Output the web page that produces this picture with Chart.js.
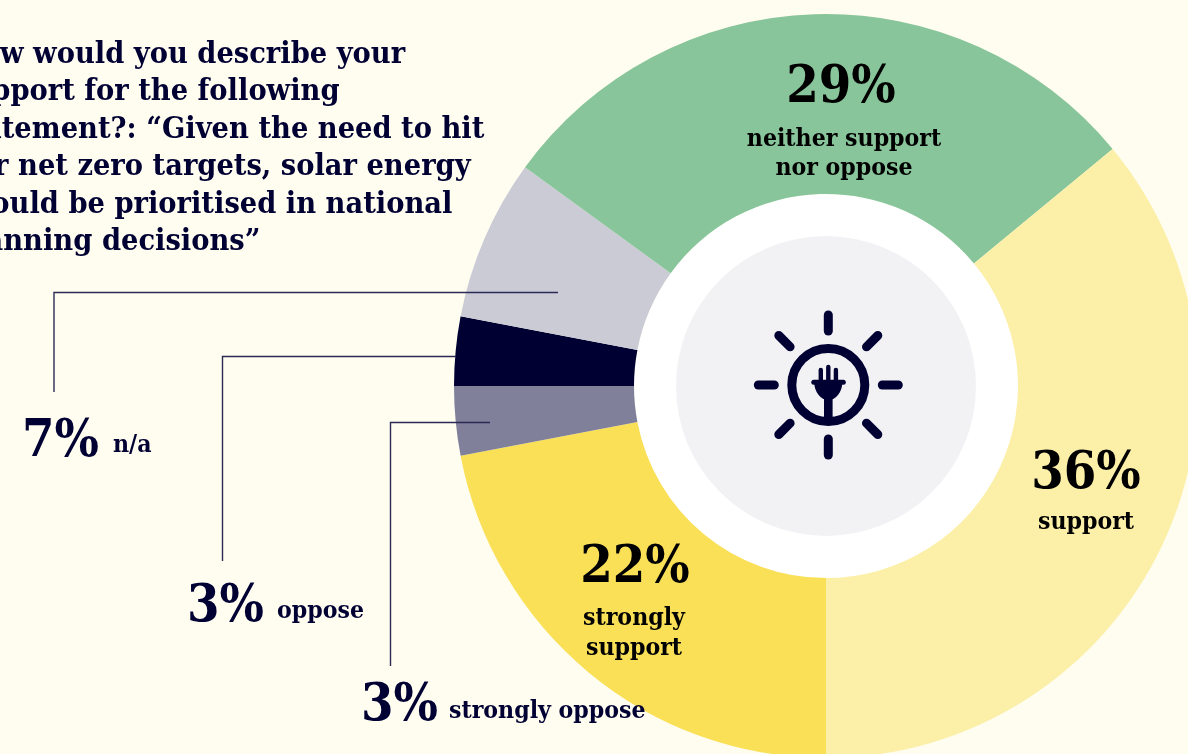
<!DOCTYPE html>
<html>
<head>
<meta charset="utf-8">
<style>
    html, body { margin: 0; padding: 0; width: 1188px; height: 754px; overflow: hidden; background: #fffdf0; }
    canvas { display: block; }
</style>
<script src="https://cdn.jsdelivr.net/npm/chart.js@4"></script>
</head>
<body>
<canvas id="solar" width="1198" height="758"></canvas>
<script>
// clockwise from the bottom of the ring
var categories = ['strongly support', 'strongly oppose', 'oppose', 'n/a', 'neither support nor oppose', 'support'];
var shares = [22, 3, 3, 7, 29, 36];
var sliceColors = ['#fae057', '#80809a', '#000033', '#cbcbd6', '#88c59a', '#fcefa8'];

var question = [
    'How would you describe your',
    'support for the following',
    'statement?: \u201cGiven the need to hit',
    'our net zero targets, solar energy',
    'should be prioritised in national',
    'planning decisions\u201d'
];

var ink = '#000033';
var serif = '"DejaVu Serif Condensed", "DejaVu Serif", serif';

// labels sitting on the ring: category index, centre x, percent baseline, caption lines
var insideLabels = [
    { i: 4, x: 841, y: 102, lines: [['neither support', 844, 146], ['nor oppose', 844, 175]] },
    { i: 5, x: 1086, y: 488, lines: [['support', 1086, 529]] },
    { i: 0, x: 635, y: 582, lines: [['strongly', 634, 625], ['support', 634, 655]] }
];

// labels outside the ring, each with an elbow leader
var outsideLabels = [
    { i: 3, x: 22, y: 456, capX: 113, capY: 452, path: [[54, 392], [54, 292.5], [558, 292.5]] },
    { i: 2, x: 187, y: 621, capX: 277, capY: 618, path: [[222.5, 561], [222.5, 356.5], [456, 356.5]] },
    { i: 1, x: 361, y: 720, capX: 449, capY: 718, path: [[390.5, 666], [390.5, 422.5], [490, 422.5]] }
];

function drawHub(ctx, cx, cy) {
    ctx.save();
    ctx.fillStyle = '#ffffff';
    ctx.beginPath();
    ctx.arc(cx, cy, 192, 0, Math.PI * 2);
    ctx.fill();
    ctx.fillStyle = '#f2f2f5';
    ctx.beginPath();
    ctx.arc(cx, cy, 150, 0, Math.PI * 2);
    ctx.fill();
    ctx.restore();
}

function drawIcon(ctx, cx, cy) {
    ctx.save();
    ctx.translate(cx + 2.3, cy - 1);
    ctx.strokeStyle = ink;
    ctx.fillStyle = ink;

    // sun ring and rays
    ctx.lineWidth = 9;
    ctx.beginPath();
    ctx.arc(0, 0, 36.5, 0, Math.PI * 2);
    ctx.stroke();
    ctx.lineCap = 'round';
    for (var k = 0; k < 8; k++) {
        var a = k * Math.PI / 4;
        ctx.beginPath();
        ctx.moveTo(Math.cos(a) * 54, Math.sin(a) * 54);
        ctx.lineTo(Math.cos(a) * 70, Math.sin(a) * 70);
        ctx.stroke();
    }

    // plug: pins, bar, body, cable
    ctx.lineWidth = 4.4;
    [[-7.5, -15], [0, -18], [7.6, -15]].forEach(function (p) {
        ctx.beginPath();
        ctx.moveTo(p[0], p[1]);
        ctx.lineTo(p[0], -3);
        ctx.stroke();
    });
    ctx.lineWidth = 5;
    ctx.beginPath();
    ctx.moveTo(-14.5, -2.7);
    ctx.lineTo(15, -2.7);
    ctx.stroke();
    ctx.beginPath();
    ctx.ellipse(0, -3, 14, 18, 0, 0, Math.PI);
    ctx.fill();
    ctx.fillRect(-4.3, 10, 8.6, 24);
    ctx.restore();
}

var annotations = {
    id: 'annotations',
    beforeDatasetsDraw: function (chart) {
        var arc = chart.getDatasetMeta(0).data[0];
        drawHub(chart.ctx, arc.x, arc.y);
    },
    afterDatasetsDraw: function (chart) {
        var ctx = chart.ctx;
        var arc = chart.getDatasetMeta(0).data[0];
        drawIcon(ctx, arc.x, arc.y);

        ctx.save();
        ctx.fillStyle = ink;
        ctx.textBaseline = 'alphabetic';

        ctx.font = 'bold 30.4px ' + serif;
        ctx.textAlign = 'left';
        question.forEach(function (line, n) {
            ctx.fillText(line, -44, 63 + n * 37.4);
        });

        insideLabels.forEach(function (l) {
            ctx.textAlign = 'center';
            ctx.fillStyle = '#000000';
            ctx.font = 'bold 52px ' + serif;
            ctx.fillText(shares[l.i] + '%', l.x, l.y);
            ctx.font = 'bold 24.6px ' + serif;
            l.lines.forEach(function (c) {
                ctx.fillText(c[0], c[1], c[2]);
            });
        });

        ctx.fillStyle = ink;
        ctx.textAlign = 'left';
        outsideLabels.forEach(function (l) {
            ctx.font = 'bold 52px ' + serif;
            ctx.fillText(shares[l.i] + '%', l.x, l.y);
            ctx.font = 'bold 24.6px ' + serif;
            ctx.fillText(categories[l.i], l.capX, l.capY);

            ctx.strokeStyle = '#2a2a55';
            ctx.lineWidth = 1.4;
            ctx.beginPath();
            l.path.forEach(function (p, n) {
                if (n == 0) ctx.moveTo(p[0], p[1]);
                else ctx.lineTo(p[0], p[1]);
            });
            ctx.stroke();
        });
        ctx.restore();
    }
};

var ctx = document.getElementById('solar').getContext('2d');
new Chart(ctx, {
    type: 'doughnut',
    data: {
        labels: categories,
        datasets: [{
            data: shares,
            backgroundColor: sliceColors,
            borderWidth: 0
        }]
    },
    options: {
        responsive: false,
        animation: false,
        rotation: 180,
        cutout: 192,
        radius: 372,
        layout: { padding: { left: 454, top: 14, right: 0, bottom: 0 } },
        plugins: { legend: { display: false }, tooltip: { enabled: false } }
    },
    plugins: [annotations]
});
</script>
</body>
</html>
